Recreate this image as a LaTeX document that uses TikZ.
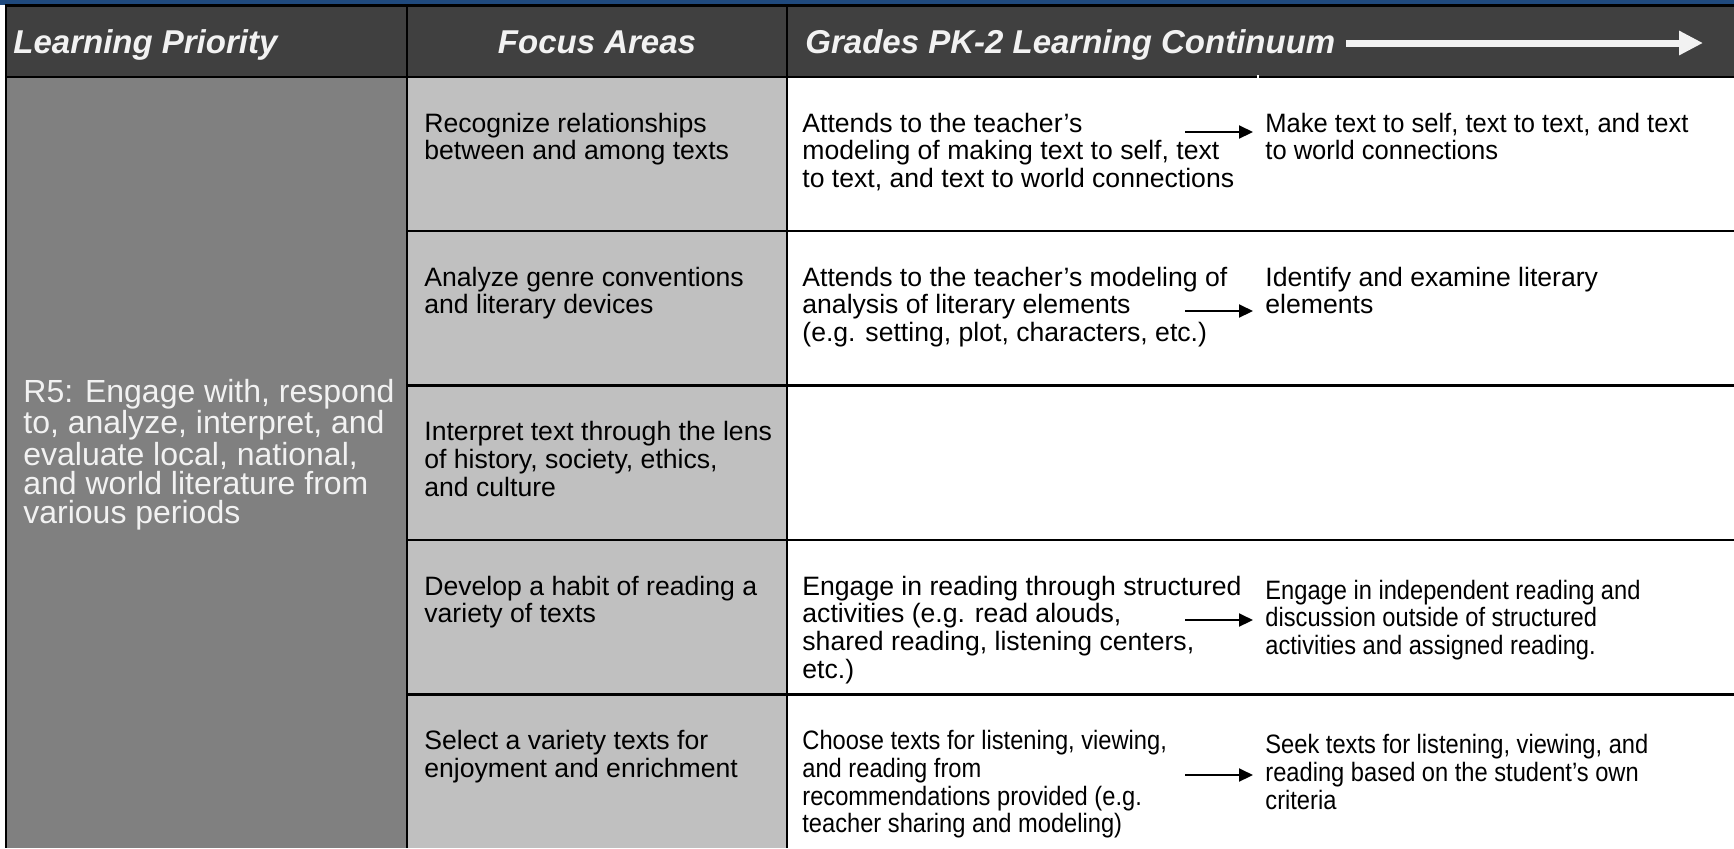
\documentclass[tikz,border=0pt]{standalone}
\usepackage{fontspec}
\setmainfont{Liberation Sans}
\newfontfamily\narrowsans[FakeStretch=0.89]{Liberation Sans}
\newfontfamily\semisans[FakeStretch=0.96]{Liberation Sans}
\usetikzlibrary{arrows.meta}

\definecolor{topblue}{RGB}{31,73,125}
\definecolor{hdrgray}{RGB}{64,64,64}
\definecolor{lpgray}{RGB}{128,128,128}
\definecolor{fagray}{RGB}{192,192,192}
\definecolor{hdrtext}{RGB}{242,242,242}

\newcommand{\bodytext}[1]{\parbox[t]{400pt}{\fontsize{13.3}{13.9}\selectfont\raggedright #1}}
\newcommand{\narrowtext}[1]{\parbox[t]{400pt}{\narrowsans\fontsize{13.3}{13.9}\selectfont\raggedright #1}}
\newcommand{\semitext}[1]{\parbox[t]{400pt}{\semisans\fontsize{13.3}{13.9}\selectfont\raggedright #1}}
\newcommand{\rfivetext}[1]{\parbox[t]{400pt}{\fontsize{16}{14.4}\selectfont\raggedright #1}}

\tikzset{
  hdr/.style={inner sep=0pt, text=hdrtext, font=\fontsize{16.5}{18}\selectfont\bfseries\itshape},
  body/.style={inner sep=0pt, anchor=base west, text=black},
  rfive/.style={inner sep=0pt, anchor=base west, text=hdrtext},
  grid/.style={line width=1.2pt, draw=black},
  prog/.style={line width=1pt, draw=black, -{Triangle[length=7pt,width=6.5pt]}},
  bigprog/.style={line width=3.5pt, draw=hdrtext, -{Triangle[length=12pt,width=11.5pt]}},
}

\begin{document}
\begin{tikzpicture}[x=0.5pt,y=-0.5pt]
\useasboundingbox (0,0) rectangle (1734,848);
\fill[white] (0,0) rectangle (1734,848);
\fill[topblue] (0,0) rectangle (1734,5);
\fill[hdrgray] (6,6) rectangle (1734,77);
\fill[lpgray] (6,77) rectangle (407,848);
\fill[fagray] (407,77) rectangle (787,848);

% grid lines
\draw[grid] (5,5.5) -- (1734,5.5);
\draw[grid] (6,5) -- (6,848);
\draw[grid] (6,77) -- (1734,77);
\draw[grid] (407,5.5) -- (407,848);
\draw[grid] (787,5.5) -- (787,848);
\foreach \yy in {231,385.5,540,694.5} \draw[grid] (407,\yy) -- (1734,\yy);
\fill[white] (1257,75) rectangle (1259,78.5);

% header
\node[hdr, anchor=base west] (hlp) at (13,53) {Learning Priority};
\node[hdr, anchor=base] (hfa) at (597,53) {Focus Areas};
\node[hdr, anchor=base west] (hgc) at (805,53) {Grades PK-2 Learning Continuum};
\coordinate (hs) at (1346,43);
\coordinate (he) at (1703,43);
\draw[bigprog] (hs) -- (he);

% learning priority
\node[rfive] (lp) at (23,402) {\rfivetext{R5: Engage with, respond\\to, analyze, interpret, and\\evaluate local, national,\\and world literature from\\various periods}};

% focus areas
\node[body] (f1) at (424,132) {\bodytext{Recognize relationships\\between and among texts}};
\node[body] (f2) at (424,286) {\bodytext{Analyze genre conventions\\and literary devices}};
\node[body] (f3) at (424,440.5) {\bodytext{Interpret text through the lens\\of history, society, ethics,\\and culture}};
\node[body] (f4) at (424,595) {\bodytext{Develop a habit of reading a\\variety of texts}};
\node[body] (f5) at (424,749.5) {\bodytext{Select a variety texts for\\enjoyment and enrichment}};

% continuum, first stage
\node[body] (a1) at (802,132) {\bodytext{Attends to the teacher’s\\modeling of making text to self, text\\to text, and text to world connections}};
\node[body] (a2) at (802,286) {\bodytext{Attends to the teacher’s modeling of\\analysis of literary elements\\(e.g. setting, plot, characters, etc.)}};
\node[body] (a4) at (802,595) {\bodytext{Engage in reading through structured\\activities (e.g. read alouds,\\shared reading, listening centers,\\etc.)}};
\node[body] (a5) at (802,749.5) {\narrowtext{Choose texts for listening, viewing,\\and reading from\\recommendations provided (e.g.\\teacher sharing and modeling)}};

% continuum, second stage
\node[body] (b1) at (1265,132) {\semitext{Make text to self, text to text, and text\\to world connections}};
\node[body] (b2) at (1265,286) {\bodytext{Identify and examine literary\\elements}};
\node[body] (b4) at (1265,599) {\narrowtext{Engage in independent reading and\\discussion outside of structured\\activities and assigned reading.}};
\node[body] (b5) at (1265,753.5) {\narrowtext{Seek texts for listening, viewing, and\\reading based on the student’s own\\criteria}};

% progression arrows
\coordinate (s1) at (1185,132);   \coordinate (e1) at (1253,132);
\coordinate (s2) at (1185,311);   \coordinate (e2) at (1253,311);
\coordinate (s4) at (1185,620);   \coordinate (e4) at (1253,620);
\coordinate (s5) at (1185,775);   \coordinate (e5) at (1253,775);
\draw[prog] (s1) -- (e1);
\draw[prog] (s2) -- (e2);
\draw[prog] (s4) -- (e4);
\draw[prog] (s5) -- (e5);
\end{tikzpicture}
\end{document}
